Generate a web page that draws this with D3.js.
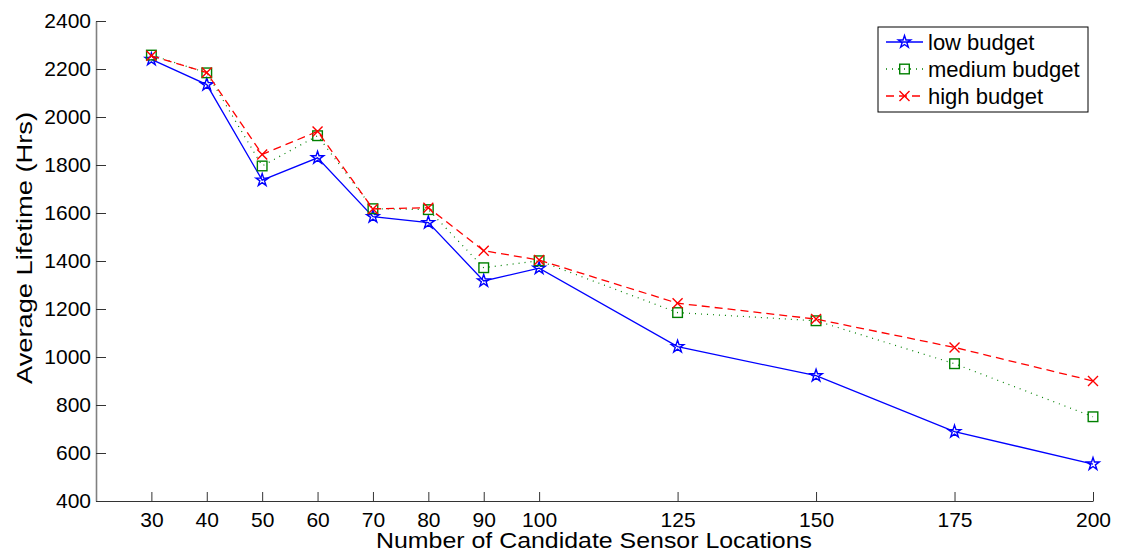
<!DOCTYPE html>
<html>
<head>
<meta charset="utf-8">
<script src="https://cdn.jsdelivr.net/npm/d3@7"></script>
<style>
  body { margin: 0; background: #fff; }
  svg { display: block; font-family: "Liberation Sans", Arial, sans-serif; }
  .tick text { font-size: 21px; fill: #000; }
</style>
</head>
<body>
<div id="chart"></div>
<script>
// values
const sensorCounts = [30, 40, 50, 60, 70, 80, 90, 100, 125, 150, 175, 200];
const lowBudget = [2240, 2135, 1737, 1830, 1585, 1560, 1317, 1370, 1043, 922, 689, 554];
const mediumBudget = [2258, 2184, 1796, 1922, 1618, 1614, 1372, 1401, 1185, 1151, 972, 751];
const highBudget = [2255, 2185, 1844, 1940, 1617, 1622, 1443, 1404, 1224, 1158, 1040, 900];
const yTicks = [400, 600, 800, 1000, 1200, 1400, 1600, 1800, 2000, 2200, 2400];
const seriesNames = ['low budget', 'medium budget', 'high budget'];

const W = 1127, H = 553;
const margin = { top: 21, right: 34, bottom: 52, left: 96 };
const width = W - margin.left - margin.right;
const height = H - margin.top - margin.bottom;

const svg = d3.select('#chart')
  .append('svg')
  .attr('width', W)
  .attr('height', H);

const chart = svg.append('g')
  .attr('transform', `translate(${margin.left},${margin.top})`);

const x = d3.scaleLinear().domain([20, 200]).range([0, width]);
const y = d3.scaleLinear().domain([400, 2400]).range([height, 0]);

const xAxis = d3.axisBottom(x)
  .tickValues(sensorCounts)
  .tickFormat(d3.format('d'))
  .tickSizeInner(-9)
  .tickSizeOuter(0)
  .tickPadding(11);

const yAxis = d3.axisLeft(y)
  .tickValues(yTicks)
  .tickFormat(d3.format('d'))
  .tickSizeInner(-10)
  .tickSizeOuter(0)
  .tickPadding(5);

const gy = chart.append('g').call(yAxis);
gy.select('.domain').attr('stroke', '#808080').attr('stroke-width', 1.6);
gy.selectAll('.tick line').attr('stroke', '#333');

const gx = chart.append('g')
  .attr('transform', `translate(0,${height})`)
  .call(xAxis);
gx.select('.domain').attr('stroke', '#333');
gx.selectAll('.tick line').attr('stroke', '#333');

svg.append('text')
  .attr('x', 594)
  .attr('y', 548)
  .attr('text-anchor', 'middle')
  .attr('textLength', 436)
  .attr('lengthAdjust', 'spacingAndGlyphs')
  .style('font-size', '22px')
  .text('Number of Candidate Sensor Locations');

svg.append('text')
  .attr('transform', 'translate(32,248) rotate(-90)')
  .attr('text-anchor', 'middle')
  .attr('textLength', 272)
  .attr('lengthAdjust', 'spacingAndGlyphs')
  .style('font-size', '22px')
  .text('Average Lifetime (Hrs)');

const styles = [
  { values: lowBudget, color: '#0000ff', dash: null, marker: 'star' },
  { values: mediumBudget, color: '#008000', dash: '1,5', marker: 'square' },
  { values: highBudget, color: '#ff0000', dash: '8,5', marker: 'x' }
];

const starPath = d3.symbol(d3.symbolStar, 48)();

function drawMarker(g, type, color) {
  if (type === 'star') {
    g.append('path').attr('d', starPath)
      .attr('fill', 'none').attr('stroke', color).attr('stroke-width', 1.4);
  } else if (type === 'square') {
    g.append('rect').attr('x', -4.8).attr('y', -4.8).attr('width', 9.6).attr('height', 9.6)
      .attr('fill', 'none').attr('stroke', color).attr('stroke-width', 1.4);
  } else {
    g.append('path').attr('d', 'M-5,-5L5,5M-5,5L5,-5')
      .attr('fill', 'none').attr('stroke', color).attr('stroke-width', 1.4);
  }
}

const line = d3.line()
  .x((d, i) => x(sensorCounts[i]))
  .y(d => y(d));

styles.forEach(s => {
  chart.append('path')
    .datum(s.values)
    .attr('d', line)
    .attr('fill', 'none')
    .attr('stroke', s.color)
    .attr('stroke-width', s.marker === 'square' ? 1.2 : 1.3)
    .attr('stroke-dasharray', s.dash);

  chart.selectAll(null)
    .data(s.values)
    .enter()
    .append('g')
    .attr('transform', (d, i) => `translate(${x(sensorCounts[i])},${y(d)})`)
    .each(function() { drawMarker(d3.select(this), s.marker, s.color); });
});

// legend
const legend = svg.append('g').attr('transform', 'translate(878,27)');
legend.append('rect')
  .attr('width', 210)
  .attr('height', 85)
  .attr('fill', '#fff')
  .attr('stroke', '#000')
  .attr('stroke-width', 1);

styles.forEach((s, i) => {
  const row = legend.append('g').attr('transform', `translate(0,${15 + i * 27})`);
  row.append('line')
    .attr('x1', 8).attr('x2', 45)
    .attr('stroke', s.color)
    .attr('stroke-width', 1.3)
    .attr('stroke-dasharray', s.dash);
  const m = row.append('g').attr('transform', 'translate(26.5,0)');
  drawMarker(m, s.marker, s.color);
  row.append('text')
    .attr('x', 50)
    .attr('y', 8)
    .style('font-size', '22px')
    .text(seriesNames[i]);
});
</script>
</body>
</html>
